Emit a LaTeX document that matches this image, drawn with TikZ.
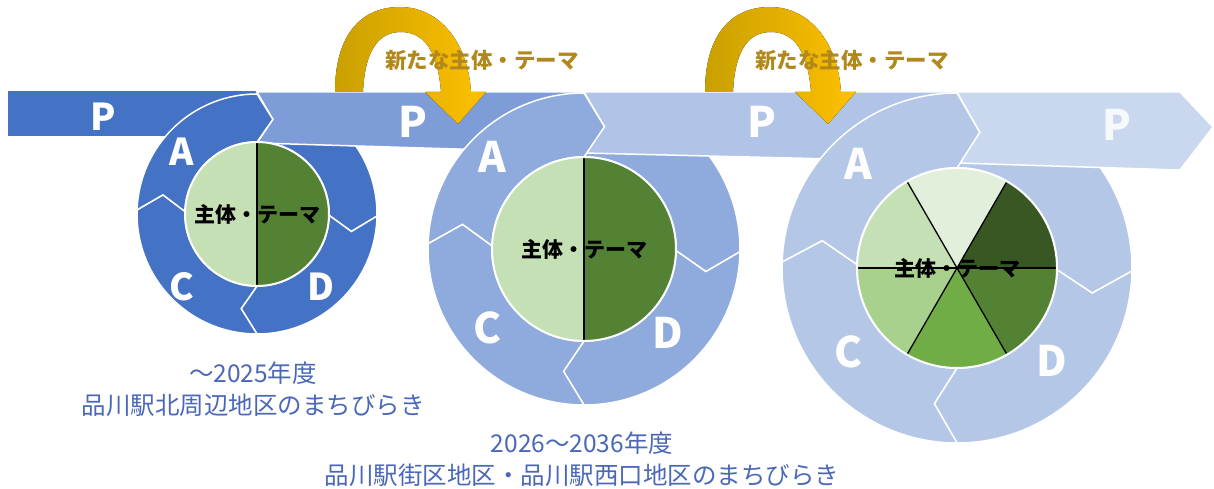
\documentclass[tikz,border=0pt]{standalone}
\usepackage{fontspec}
\newfontfamily\jpfont{Noto Sans CJK JP}
\usetikzlibrary{calc,positioning}

\definecolor{blueA}{HTML}{4472C4}
\definecolor{barB}{HTML}{7D9CD8}
\definecolor{blueB}{HTML}{8FAADC}
\definecolor{barC}{HTML}{B0C4E8}
\definecolor{blueC}{HTML}{B4C7E7}
\definecolor{barD}{HTML}{C9D7EF}
\definecolor{greenA}{HTML}{E2EFDA}
\definecolor{greenL}{HTML}{C5E0B4}
\definecolor{greenM}{HTML}{A9D18E}
\definecolor{greenN}{HTML}{70AD47}
\definecolor{greenD}{HTML}{548235}
\definecolor{greenE}{HTML}{385723}
\definecolor{goldD}{HTML}{C9A000}
\definecolor{goldL}{HTML}{FFC000}
\definecolor{goldT}{HTML}{B0881C}
\definecolor{eraBlue}{HTML}{4A68B7}

% one arrow-shaped piece of a ring: centre, R, r, from, to, colour
\newcommand{\ringpart}[6]{%
    \fill[#6, draw=white, line width=1.5pt]
        ($(#1)+(#4:#2)$) arc[start angle=#4, end angle=#5, radius=#2]
        -- ($(#1)+({#5-9.5}:{(#2+#3)/2})$)
        -- ($(#1)+(#5:#3)$) arc[start angle=#5, end angle=#4, radius=#3]
        -- ($(#1)+({#4-9.5}:{(#2+#3)/2})$) -- cycle;}

\begin{document}
\begin{tikzpicture}[
        x=1pt, y=1pt,
        band/.style={draw=white, line width=1.5pt},
        divider/.style={black, line width=1.3pt},
        rim/.style={white, line width=2pt},
        letter/.style={text=white, font=\jpfont\bfseries\fontsize{42}{42}\selectfont},
        small letter/.style={text=white, font=\jpfont\bfseries\fontsize{37}{37}\selectfont},
        theme/.style={text=black, font=\jpfont\bfseries\fontsize{21}{21}\selectfont, inner sep=0pt},
        newtheme/.style={text=goldT, font=\jpfont\bfseries\fontsize{21.5}{21.5}\selectfont, inner sep=0pt},
        era/.style={text=eraBlue, align=center, inner sep=0pt,
            font=\jpfont\fontsize{24.5}{32}\selectfont}
    ]

    \useasboundingbox (0,0) rectangle (1214,488);

    \coordinate (c1) at (257,274);
    \coordinate (c2) at (584,239);
    \coordinate (c3) at (957,220);

    % first cycle
    \fill[blueA] (8,397) -- (262,397) -- (262,352) -- (8,352) -- cycle;
    \ringpart{c1}{120}{72}{90}{-1}{blueA}
    \ringpart{c1}{120}{72}{-1}{-90}{blueA}
    \ringpart{c1}{120}{72}{-90}{-182}{blueA}

    \fill[barB, band] (257,396) -- (590,396) -- (590,335)
        -- (257,345) -- ($(c1)+(80.5:96)$) -- cycle;
    \ringpart{c1}{120}{72}{178}{90}{blueA}

    \fill[greenL] (c1) -- ($(c1)+(90:72)$) arc[start angle=90, end angle=270, radius=72] -- cycle;
    \fill[greenD] (c1) -- ($(c1)+(-90:72)$) arc[start angle=-90, end angle=90, radius=72] -- cycle;
    \draw[divider] ($(c1)+(90:72)$) -- ($(c1)+(-90:72)$);
    \draw[rim] (c1) circle[radius=72];

    % second cycle
    \ringpart{c2}{156}{92}{90}{-1}{blueB}
    \ringpart{c2}{156}{92}{-1}{-90}{blueB}
    \ringpart{c2}{156}{92}{-90}{-182}{blueB}

    \fill[barC, band] (584,396) -- (957,396) -- (957,326)
        -- (584,335) -- ($(c2)+(80.5:124)$) -- cycle;
    \ringpart{c2}{156}{92}{178}{90}{blueB}

    \fill[greenL] (c2) -- ($(c2)+(90:92)$) arc[start angle=90, end angle=270, radius=92] -- cycle;
    \fill[greenD] (c2) -- ($(c2)+(-90:92)$) arc[start angle=-90, end angle=90, radius=92] -- cycle;
    \draw[divider] ($(c2)+(90:92)$) -- ($(c2)+(-90:92)$);
    \draw[rim] (c2) circle[radius=92];

    % third cycle
    \ringpart{c3}{175}{100}{90}{-1}{blueC}
    \ringpart{c3}{175}{100}{-1}{-90}{blueC}
    \ringpart{c3}{175}{100}{-90}{-182}{blueC}

    \fill[barD, band] (957,396) -- (1180,396) -- (1213,361) -- (1180,318)
        -- (957,325) -- ($(c3)+(80.5:137.5)$) -- cycle;
    \ringpart{c3}{175}{100}{178}{90}{blueC}

    \foreach \a/\col in {0/greenE,60/greenA,120/greenL,180/greenM,240/greenN,300/greenD}
        \fill[\col] (c3) -- ($(c3)+(\a:100)$) arc[start angle=\a, end angle={\a+60}, radius=100] -- cycle;
    \foreach \a in {0,60,120}
        \draw[divider] ($(c3)+(\a:100)$) -- ($(c3)+({\a+180}:100)$);
    \draw[rim] (c3) circle[radius=100];

    % letters
    \node[small letter] (p1) at (103,371) {P};
    \node[small letter] (a1) at (182,336) {A};
    \node[small letter] (cc1) at (182,201) {C};
    \node[small letter] (d1) at (321,201) {D};

    \node[letter] (p2) at (413,366) {P};
    \node[letter] (a2) at (492,331) {A};
    \node[letter] (cc2) at (487,160) {C};
    \node[letter] (d2) at (668,155) {D};

    \node[letter] (p3) at (762,366) {P};
    \node[letter] (a3) at (858,324) {A};
    \node[letter] (cc3) at (848,136) {C};
    \node[letter] (d3) at (1052,127) {D};
    \node[letter, text opacity=0.85] (p4) at (1117,363) {P};

    \node[theme] (theme1) at (c1) {主体・テーマ};
    \node[theme] (theme2) at (c2) {主体・テーマ};
    \node[theme] (theme3) at (c3) {主体・テーマ};

    % new subjects coming in
    \foreach \dx/\n in {0/1,370/2} {
        \begin{scope}[shift={(\dx,0)}]
            \fill[left color=goldD, right color=goldL]
                (335,396) .. controls (335,452) and (360,481) .. (400,481)
                .. controls (440,481) and (468,445) .. (471,396)
                -- (486,396) -- (458,364) -- (425,396) -- (441,396)
                .. controls (438,435) and (425,456) .. (401,456)
                .. controls (380,456) and (365,440) .. (363,396) -- cycle;
            \node[newtheme] (new\n) at (482,428) {新たな主体・テーマ};
        \end{scope}
    }

    % periods
    \node[era] (era1) at (253,99) {～2025年度\\品川駅北周辺地区のまちびらき};
    \node[era] (era2) at (582,29) {2026～2036年度\\品川駅街区地区・品川駅西口地区のまちびらき};

\end{tikzpicture}
\end{document}
